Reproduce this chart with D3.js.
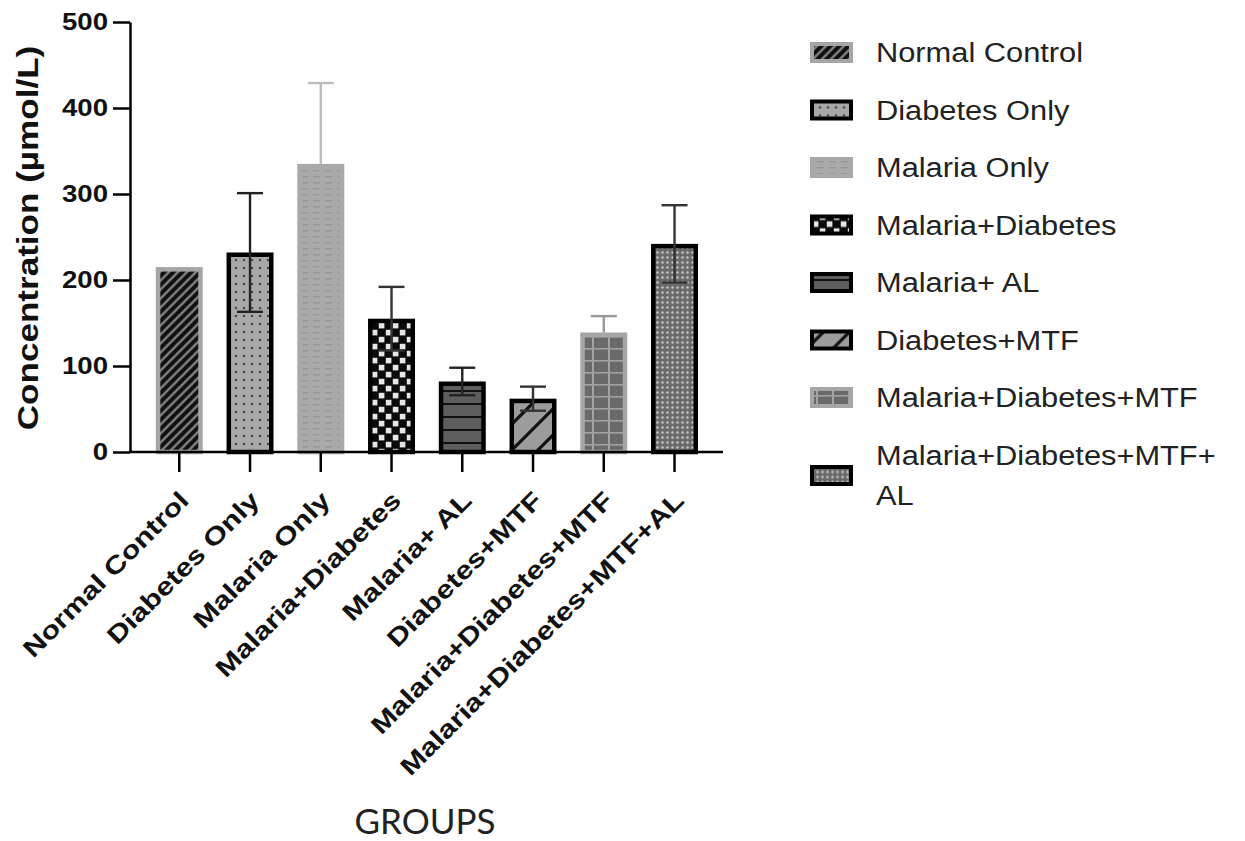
<!DOCTYPE html>
<html>
<head>
<meta charset="utf-8">
<script src="https://cdn.jsdelivr.net/npm/d3@7"></script>
<style>
  html, body { margin: 0; padding: 0; background: #fff; }
  svg { display: block; }
</style>
</head>
<body>
<svg id="chart" width="1245" height="841"></svg>
<script>
// Groups, means and standard deviations (µmol/L)
const groups = [
  "Normal Control",
  "Diabetes Only",
  "Malaria Only",
  "Malaria+Diabetes",
  "Malaria+ AL",
  "Diabetes+MTF",
  "Malaria+Diabetes+MTF",
  "Malaria+Diabetes+MTF+AL"
];
const means = [215, 232, 335, 155, 82, 62, 139, 242];
const sds   = [0, 69, 94, 37, 16, 14, 19, 45];
const yTicks = [0, 100, 200, 300, 400, 500];
const legendLines = [
  ["Normal Control"],
  ["Diabetes Only"],
  ["Malaria Only"],
  ["Malaria+Diabetes"],
  ["Malaria+ AL"],
  ["Diabetes+MTF"],
  ["Malaria+Diabetes+MTF"],
  ["Malaria+Diabetes+MTF+", "AL"]
];
const yTitle = "Concentration (µmol/L)";
const xTitle = "GROUPS";

// Per-group fill pattern, border and error-bar styling
// (lower whiskers of the light-gray bars blend into their fill)
const styles = [
  { pat: "p-nc",   border: "#a6a6a6", err: "#9a9a9a", lower: true },
  { pat: "p-do",   border: "#000",    err: "#222",    lower: true },
  { pat: "p-mo",   border: "#a9a9a9", err: "#bdbdbd", lower: false },
  { pat: "p-md",   border: "#000",    err: "#333",    lower: true },
  { pat: "p-mal",  border: "#000",    err: "#222",    lower: true },
  { pat: "p-dm",   border: "#000",    err: "#333",    lower: true },
  { pat: "p-mdm",  border: "#a6a6a6", err: "#999",    lower: false },
  { pat: "p-mdma", border: "#000",    err: "#333",    lower: true }
];

const svg = d3.select("#chart");
const FONT = "'Liberation Sans', Arial, sans-serif";

// ---- fill patterns ----
const defs = svg.append("defs");
function pattern(id, w, h, bg) {
  const p = defs.append("pattern").attr("id", id)
    .attr("patternUnits", "userSpaceOnUse").attr("width", w).attr("height", h);
  p.append("rect").attr("width", w).attr("height", h).attr("fill", bg);
  return p;
}
// diagonal gray stripes on black
pattern("p-nc", 9, 9, "#111").append("path")
  .attr("d", "M0,9 L9,0 M-2,2 L2,-2 M7,11 L11,7")
  .attr("stroke", "#7a7a7a").attr("stroke-width", 2.6);
// dotted gray
pattern("p-do", 8, 8, "#a8a8a8").append("circle")
  .attr("cx", 4).attr("cy", 4).attr("r", 1.3).attr("fill", "#4a4a4a");
// faint horizontal dashes
{
  const p = pattern("p-mo", 12, 6, "#a9a9a9");
  p.append("rect").attr("x", 1).attr("y", 2).attr("width", 7).attr("height", 1.4).attr("fill", "#989898");
}
// checkerboard
{
  const p = pattern("p-md", 14, 14, "#0a0a0a");
  p.append("rect").attr("x", 0.8).attr("y", 0.8).attr("width", 5.6).attr("height", 5.6).attr("fill", "#e6e6e6");
  p.append("rect").attr("x", 7.8).attr("y", 7.8).attr("width", 5.6).attr("height", 5.6).attr("fill", "#e6e6e6");
}
// dark gray with horizontal rules
pattern("p-mal", 10, 13, "#5e5e5e").append("rect")
  .attr("x", 0).attr("y", 0).attr("width", 10).attr("height", 2).attr("fill", "#111");
// wide black diagonals on gray
pattern("p-dm", 26, 26, "#9c9c9c").append("path")
  .attr("d", "M0,26 L26,0 M-4,4 L4,-4 M22,30 L30,22")
  .attr("stroke", "#111").attr("stroke-width", 3.2);
// plaid grid
{
  const p = pattern("p-mdm", 16, 12, "#6a6a6a");
  p.append("rect").attr("x", 0).attr("y", 0).attr("width", 2).attr("height", 12).attr("fill", "#a3a3a3");
  p.append("rect").attr("x", 0).attr("y", 0).attr("width", 16).attr("height", 1.6).attr("fill", "#a3a3a3");
}
// fine mesh
{
  const p = pattern("p-mdma", 5, 5, "#6c6c6c");
  p.append("circle").attr("cx", 2.5).attr("cy", 2.5).attr("r", 1.2).attr("fill", "#c4c4c4");
  p.append("circle").attr("cx", 0).attr("cy", 0).attr("r", 0.6).attr("fill", "#222");
}

// ---- scales ----
const x = d3.scaleBand().domain(groups).range([143.9, 709.9])
  .paddingInner(0.336).paddingOuter(0.168);
const y = d3.scaleLinear().domain([0, 500]).range([452, 22]);

// ---- bars ----
const data = groups.map((g, i) => ({ g, v: means[i], sd: sds[i], s: styles[i] }));
const BW = 4.5;
svg.append("g").selectAll("rect").data(data).join("rect")
  .attr("x", d => x(d.g) + BW / 2)
  .attr("width", x.bandwidth() - BW)
  .attr("y", d => y(d.v) + BW / 2)
  .attr("height", d => y(0) - y(d.v) - BW / 2)
  .attr("fill", d => `url(#${d.s.pat})`)
  .attr("stroke", d => d.s.border)
  .attr("stroke-width", BW);

// ---- error bars ----
const CAP = 13;
const cx = d => x(d.g) + x.bandwidth() / 2;
const eb = svg.append("g").selectAll("g").data(data.filter(d => d.sd > 0)).join("g")
  .attr("stroke", d => d.s.err).attr("stroke-width", 2.4).attr("fill", "none");
eb.append("line")
  .attr("x1", cx).attr("x2", cx)
  .attr("y1", d => d.s.lower ? y(d.v - d.sd) : y(d.v)).attr("y2", d => y(d.v + d.sd));
eb.append("line")
  .attr("x1", d => cx(d) - CAP).attr("x2", d => cx(d) + CAP)
  .attr("y1", d => y(d.v + d.sd)).attr("y2", d => y(d.v + d.sd));
eb.filter(d => d.s.lower).append("line")
  .attr("x1", d => cx(d) - CAP).attr("x2", d => cx(d) + CAP)
  .attr("y1", d => y(d.v - d.sd)).attr("y2", d => y(d.v - d.sd));

// ---- y axis ----
const AXIS_X = 130;
const yAxis = svg.append("g").attr("transform", `translate(${AXIS_X},0)`)
  .call(d3.axisLeft(y).tickValues(yTicks).tickSize(17).tickSizeOuter(0));
yAxis.select(".domain").attr("stroke", "#000").attr("stroke-width", 2.5);
yAxis.selectAll(".tick line").attr("stroke", "#000").attr("stroke-width", 2.5);
yAxis.selectAll(".tick text")
  .attr("x", null)
  .attr("transform", "translate(-22,0) scale(1.2,1)")
  .attr("font-family", FONT).attr("font-weight", "bold").attr("font-size", 23)
  .attr("fill", "#111");

// ---- x axis ----
const xAxis = svg.append("g").attr("transform", `translate(0,${y(0)})`)
  .call(d3.axisBottom(x).tickSize(20).tickFormat(""));
xAxis.select(".domain").remove();
xAxis.selectAll(".tick line").attr("stroke", "#000").attr("stroke-width", 2.5);
xAxis.append("line").attr("x1", AXIS_X - 1).attr("x2", 723).attr("y1", 0).attr("y2", 0)
  .attr("stroke", "#000").attr("stroke-width", 2.5);

svg.append("g").selectAll("text").data(groups).join("text")
  .attr("transform", g => `translate(${x(g) + x.bandwidth() / 2 + 11},502) rotate(-45) scale(1.22,1)`)
  .attr("text-anchor", "end")
  .attr("font-family", FONT).attr("font-weight", "bold").attr("font-size", 25)
  .attr("fill", "#111")
  .text(g => g);

// ---- axis titles ----
svg.append("text")
  .attr("transform", "translate(38,238) rotate(-90) scale(1.21,1)")
  .attr("text-anchor", "middle")
  .attr("font-family", FONT).attr("font-weight", "bold").attr("font-size", 29)
  .attr("fill", "#111")
  .text(yTitle);

svg.append("text")
  .attr("x", 425).attr("y", 834)
  .attr("text-anchor", "middle")
  .attr("font-family", "Lato, 'Open Sans', sans-serif").attr("font-size", 35)
  .attr("fill", "#222")
  .text(xTitle);

// ---- legend ----
const legend = svg.append("g");
const rows = legend.selectAll("g").data(data).join("g")
  .attr("transform", (d, i) => `translate(0,${62 + i * 57.5})`);
rows.append("rect")
  .attr("x", 812).attr("width", 39).attr("height", 17)
  .attr("y", (d, i) => -18 + (legendLines[i].length - 1) * 20.5)
  .attr("fill", d => `url(#${d.s.pat})`)
  .attr("stroke", d => d.s.border).attr("stroke-width", 4);
rows.each(function (d, i) {
  const t = d3.select(this).append("text")
    .attr("transform", "translate(876,0) scale(1.1,1)")
    .attr("font-family", FONT).attr("font-size", 28).attr("fill", "#222");
  t.selectAll("tspan").data(legendLines[i]).join("tspan")
    .attr("x", 0).attr("y", (l, j) => j * 41)
    .text(l => l);
});
</script>
</body>
</html>
